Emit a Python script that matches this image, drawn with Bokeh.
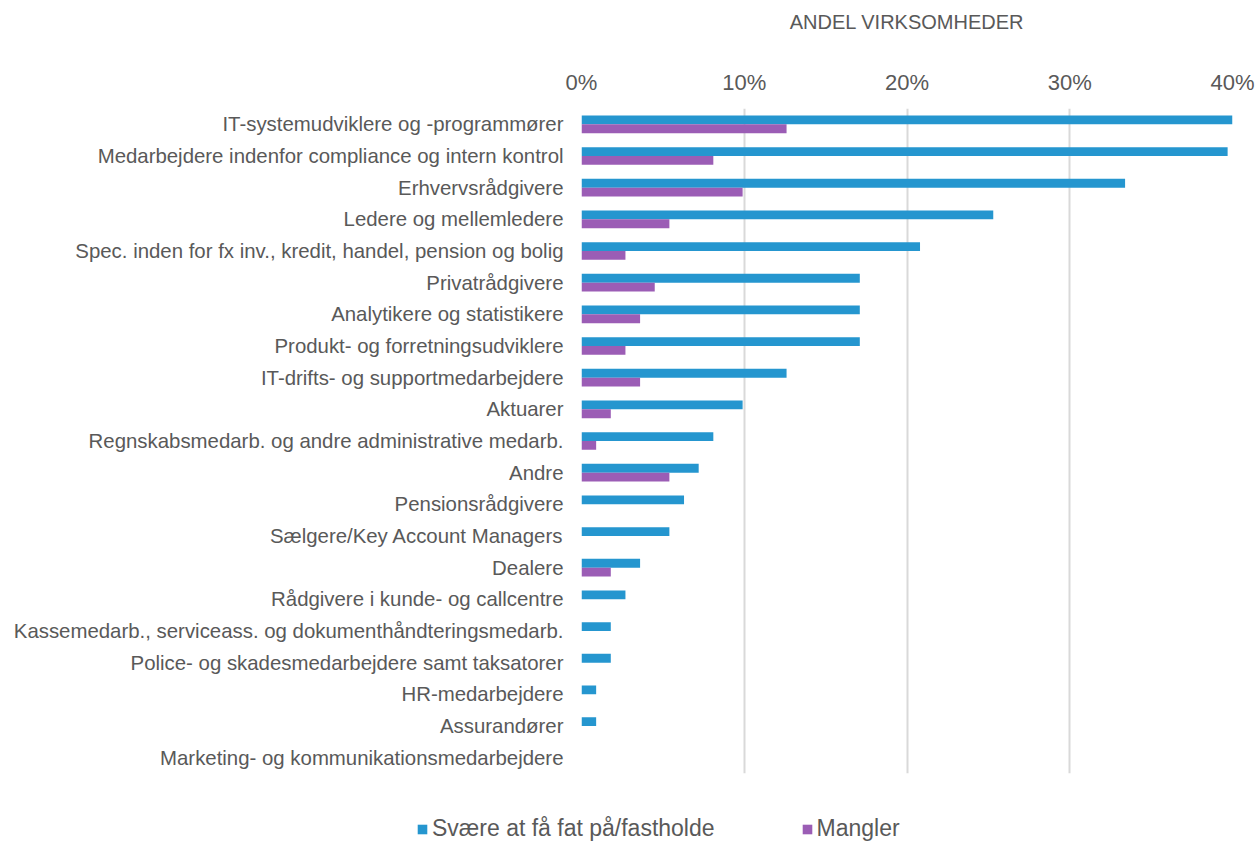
from bokeh.plotting import figure
from bokeh.models import FactorRange, Range1d, NumeralTickFormatter, FixedTicker, Legend, LegendItem, ColumnDataSource
from bokeh.transform import dodge
from bokeh.embed import file_html
from bokeh.resources import INLINE

categories = [
    "IT-systemudviklere og -programmører",
    "Medarbejdere indenfor compliance og intern kontrol",
    "Erhvervsrådgivere",
    "Ledere og mellemledere",
    "Spec. inden for fx inv., kredit, handel, pension og bolig",
    "Privatrådgivere",
    "Analytikere og statistikere",
    "Produkt- og forretningsudviklere",
    "IT-drifts- og supportmedarbejdere",
    "Aktuarer",
    "Regnskabsmedarb. og andre administrative medarb.",
    "Andre",
    "Pensionsrådgivere",
    "Sælgere/Key Account Managers",
    "Dealere",
    "Rådgivere i kunde- og callcentre",
    "Kassemedarb., serviceass. og dokumenthåndteringsmedarb.",
    "Police- og skadesmedarbejdere samt taksatorer",
    "HR-medarbejdere",
    "Assurandører",
    "Marketing- og kommunikationsmedarbejdere",
]
svaere = [0.400, 0.397, 0.334, 0.253, 0.208, 0.171, 0.171, 0.171, 0.126, 0.099, 0.081,
          0.072, 0.063, 0.054, 0.036, 0.027, 0.018, 0.018, 0.009, 0.009, 0.0]
mangler = [0.126, 0.081, 0.099, 0.054, 0.027, 0.045, 0.036, 0.027, 0.036, 0.018, 0.009,
           0.054, 0.0, 0.0, 0.018, 0.0, 0.0, 0.0, 0.0, 0.0, 0.0]
tick_values = [0.0, 0.1, 0.2, 0.3, 0.4]
series_names = ["Svære at få fat på/fastholde", "Mangler"]

BLUE = "#2596cf"
PURPLE = "#9b5db5"
GRAY = "#595959"
FONT = "Liberation Sans"

source = ColumnDataSource(dict(cat=categories, svaere=svaere, mangler=mangler))

p = figure(
    frame_width=651, frame_height=665,
    y_range=FactorRange(*reversed(categories)),
    x_range=Range1d(0, 0.4),
    x_axis_location="above",
    output_backend="svg", toolbar_location=None,
    min_border_left=581, min_border_right=24, min_border_top=108, min_border_bottom=20,
)

r1 = p.hbar(y=dodge("cat", 0.14, range=p.y_range), right="svaere", left=0, height=0.28,
            source=source, fill_color=BLUE, line_color=None)
r2 = p.hbar(y=dodge("cat", -0.14, range=p.y_range), right="mangler", left=0, height=0.28,
            source=source, fill_color=PURPLE, line_color=None)

p.outline_line_color = None
p.ygrid.grid_line_color = None
p.xgrid.grid_line_color = "#d9d9d9"
p.xgrid.grid_line_width = 2
p.xgrid.ticker = FixedTicker(ticks=tick_values)

xa = p.xaxis[0]
xa.ticker = FixedTicker(ticks=tick_values)
xa.formatter = NumeralTickFormatter(format="0%")
xa.axis_line_color = None
xa.major_tick_line_color = None
xa.minor_tick_line_color = None
xa.major_tick_out = 0
xa.major_tick_in = 0
xa.major_label_standoff = 14
xa.major_label_text_font = FONT
xa.major_label_text_font_size = "22px"
xa.major_label_text_color = GRAY
xa.axis_label = "ANDEL VIRKSOMHEDER"
xa.axis_label_text_font = FONT
xa.axis_label_text_font_size = "20px"
xa.axis_label_text_font_style = "normal"
xa.axis_label_text_color = GRAY
xa.axis_label_standoff = 34

ya = p.yaxis[0]
ya.axis_line_color = None
ya.major_tick_line_color = None
ya.minor_tick_line_color = None
ya.major_tick_out = 0
ya.major_tick_in = 0
ya.major_label_standoff = 18
ya.major_label_text_font = FONT
ya.major_label_text_font_size = "20.4px"
ya.major_label_text_color = GRAY

# Legend strip below the chart (separate root, so its frame spans the full width)
lg = figure(
    width=1256, height=50,
    x_range=Range1d(0, 1), y_range=Range1d(0, 1),
    x_axis_type=None, y_axis_type=None,
    output_backend="svg", toolbar_location=None,
    min_border=0,
)
lg.outline_line_color = None
lg.grid.grid_line_color = None
# zero-size key renderers (same series data, no visible area) that only supply the legend swatches
k1 = lg.hbar(y="svaere", left=0, right=0, height=0, source=source,
             fill_color=BLUE, line_color=None)
k2 = lg.hbar(y="mangler", left=0, right=0, height=0, source=source,
             fill_color=PURPLE, line_color=None)

legend = Legend(
    items=[LegendItem(label=series_names[0], renderers=[k1]),
           LegendItem(label=series_names[1], renderers=[k2])],
    location=(416, 1), orientation="horizontal",
    border_line_color=None, background_fill_alpha=0,
    label_text_font=FONT, label_text_font_size="23px", label_text_color=GRAY,
    glyph_width=12, glyph_height=12, label_height=24, label_standoff=4,
    spacing=86, padding=0, margin=0,
)
lg.add_layout(legend, "center")

open("out.html", "w").write(file_html([p, lg], INLINE))
